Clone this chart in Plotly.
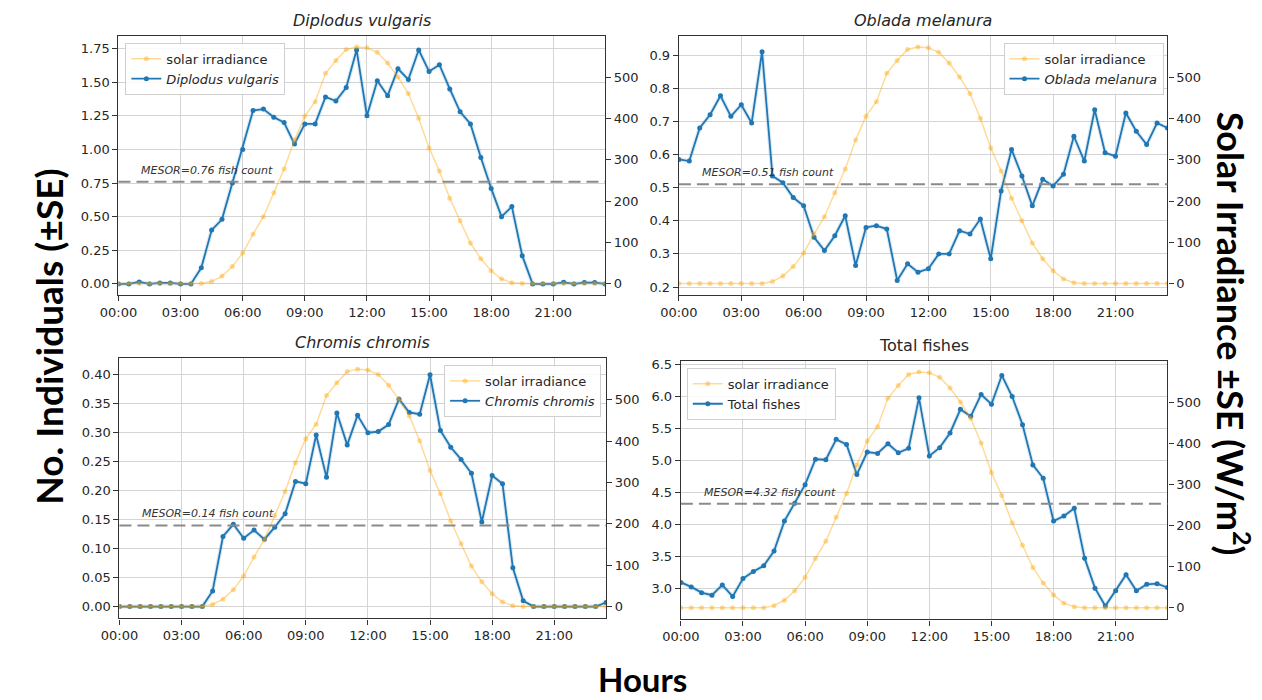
import plotly.graph_objects as go

# Half-hourly sampling times over one day
TIMES = ["00:00", "00:30", "01:00", "01:30", "02:00", "02:30", "03:00", "03:30",
         "04:00", "04:30", "05:00", "05:30", "06:00", "06:30", "07:00", "07:30",
         "08:00", "08:30", "09:00", "09:30", "10:00", "10:30", "11:00", "11:30",
         "12:00", "12:30", "13:00", "13:30", "14:00", "14:30", "15:00", "15:30",
         "16:00", "16:30", "17:00", "17:30", "18:00", "18:30", "19:00", "19:30",
         "20:00", "20:30", "21:00", "21:30", "22:00", "22:30", "23:00", "23:30"]
TICK_LABELS = ["00:00", "03:00", "06:00", "09:00", "12:00", "15:00", "18:00", "21:00"]

# Solar irradiance (W/m2)
SOLAR = [0, 0, 0, 0, 0, 0, 0, 0,
         0, 5, 18, 41, 74, 120, 162, 220, 278, 348,
         406, 441, 510, 541, 568, 574, 572, 561, 535, 501,
         461, 401, 329, 273, 207, 152, 98, 60, 31, 11, 2,
         0, 0, 0, 0, 0, 0, 0, 0, 0]

# Mean counts per species
DIPLODUS = [0, 0, 0.015, 0, 0.007, 0.007, 0, 0,
            0.12, 0.40, 0.48, 0.75, 1.00, 1.29, 1.30, 1.24, 1.20, 1.04,
            1.19, 1.19, 1.39, 1.36, 1.46, 1.74, 1.25, 1.51, 1.40, 1.60,
            1.52, 1.74, 1.58, 1.63, 1.45, 1.28, 1.19, 0.94, 0.71, 0.50,
            0.575, 0.21,
            0, 0, 0, 0.012, 0, 0.01, 0.01, 0]
OBLADA = [0.585, 0.58, 0.68, 0.72, 0.777, 0.715, 0.75, 0.695,
          0.91, 0.535, 0.515, 0.47, 0.445, 0.35, 0.31, 0.355, 0.415, 0.265,
          0.38, 0.385, 0.375, 0.22, 0.27, 0.245, 0.255, 0.30, 0.30, 0.37,
          0.36, 0.405, 0.285, 0.49, 0.615, 0.535, 0.445, 0.525, 0.505, 0.54,
          0.655, 0.58, 0.735, 0.605, 0.595, 0.725, 0.67, 0.63, 0.695, 0.68]
CHROMIS = [0, 0, 0, 0, 0, 0, 0, 0, 0,
           0.027, 0.121, 0.142, 0.118, 0.132, 0.116, 0.137, 0.16, 0.216, 0.212,
           0.296, 0.223, 0.334, 0.279, 0.33, 0.30, 0.302, 0.314, 0.358, 0.335,
           0.332, 0.40, 0.304, 0.275, 0.254, 0.23, 0.146, 0.226, 0.212, 0.067,
           0.01,
           0, 0, 0, 0, 0, 0, 0, 0.007]
TOTAL = [3.09, 3.02, 2.93, 2.89, 3.05, 2.87, 3.15, 3.26, 3.35, 3.58,
         4.05, 4.33, 4.62, 5.02, 5.01, 5.33, 5.25, 4.78, 5.13, 5.11,
         5.26, 5.12, 5.19, 5.98, 5.07, 5.20, 5.43, 5.80, 5.69, 6.03,
         5.88, 6.33, 6.00, 5.56, 4.93, 4.72, 4.05, 4.13, 4.25, 3.47,
         3.00, 2.72, 2.96, 3.21, 2.96, 3.06, 3.07, 3.01]

MESORS = [0.76, 0.51, 0.14, 4.32]
NAMES = ["Diplodus vulgaris", "Oblada melanura", "Chromis chromis", "Total fishes"]
ITALIC = [True, True, True, False]
SERIES = [DIPLODUS, OBLADA, CHROMIS, TOTAL]
LEFT_TICKS = [
    [0, 0.25, 0.5, 0.75, 1.0, 1.25, 1.5, 1.75],
    [0.2, 0.3, 0.4, 0.5, 0.6, 0.7, 0.8, 0.9],
    [0, 0.05, 0.1, 0.15, 0.2, 0.25, 0.3, 0.35, 0.4],
    [3.0, 3.5, 4.0, 4.5, 5.0, 5.5, 6.0, 6.5],
]
LEFT_FORMAT = [".2f", ".1f", ".2f", ".1f"]
RIGHT_TICKS = [0, 100, 200, 300, 400, 500]


def to_hours(t):
    h, m = t.split(":")
    return int(h) + int(m) / 60


hours = [to_hours(t) for t in TIMES]
tick_vals = [to_hours(t) for t in TICK_LABELS]

W, H = 1262, 700
# pixel boxes of the four plot areas: (left, right, top, bottom)
BOXES = [(101, 595, 32, 293), (670, 1166, 32, 293),
         (102, 596, 356, 618), (672, 1166, 359, 619)]
LEFT_RANGES = [[-0.085, 1.845], [0.175, 0.958], [-0.0205, 0.429], [2.51, 6.557]]
RIGHT_RANGE = [-28.7, 601]
# legend anchor (x px, y px, xanchor)
LEGENDS = [(108, 39, "left"), (1162, 39, "right"), (591, 363, "right"), (678, 366, "left")]

BLUE = "#1f77b4"
SUN = "rgba(255,165,0,0.40)"
FRAME = "#333333"
GRID = "#d4d4d4"
TICKFONT = dict(family="DejaVu Sans", size=13, color="#262626")

fig = go.Figure()
layout = dict(width=W, height=H, margin=dict(l=0, r=0, t=0, b=0),
              paper_bgcolor="white", plot_bgcolor="white", showlegend=True,
              annotations=[], shapes=[])

for i in range(4):
    n = i + 1
    xa = "x" if n == 1 else f"x{n}"
    ya = "y" if n == 1 else f"y{n}"
    yr = f"y{n + 4}"
    leg = "legend" if n == 1 else f"legend{n}"
    label = f"<i>{NAMES[i]}</i>" if ITALIC[i] else NAMES[i]

    # faint SE envelope under the mean line
    fig.add_trace(go.Scatter(x=hours, y=SERIES[i], xaxis=xa, yaxis=ya, mode="lines",
                             line=dict(color="rgba(31,119,180,0.16)", width=4),
                             showlegend=False, hoverinfo="skip"))
    fig.add_trace(go.Scatter(x=hours, y=SERIES[i], xaxis=xa, yaxis=ya,
                             mode="lines+markers", name=label, legend=leg, legendrank=2,
                             line=dict(color=BLUE, width=1.8),
                             marker=dict(color=BLUE, size=5)))
    fig.add_trace(go.Scatter(x=hours, y=SOLAR, xaxis=xa, yaxis=yr,
                             mode="lines+markers", name="solar irradiance",
                             legend=leg, legendrank=1,
                             line=dict(color=SUN, width=1.5),
                             marker=dict(color=SUN, size=5)))

    l, r, t, b = BOXES[i]
    xdom = [l / W, r / W]
    ydom = [1 - b / H, 1 - t / H]
    xkey = "xaxis" if n == 1 else f"xaxis{n}"
    ykey = "yaxis" if n == 1 else f"yaxis{n}"
    layout[xkey] = dict(domain=xdom, anchor=ya, range=[hours[0], hours[-1]],
                        tickvals=tick_vals, ticktext=TICK_LABELS,
                        ticks="outside", ticklen=5, tickcolor=FRAME,
                        showline=True, mirror=True, linecolor=FRAME, linewidth=1.3,
                        showgrid=True, gridcolor=GRID, gridwidth=1, zeroline=False,
                        tickfont=TICKFONT)
    layout[ykey] = dict(domain=ydom, anchor=xa, range=LEFT_RANGES[i],
                        tickvals=LEFT_TICKS[i], tickformat=LEFT_FORMAT[i],
                        ticks="outside", ticklen=5, tickcolor=FRAME,
                        showline=True, mirror=True, linecolor=FRAME, linewidth=1.3,
                        showgrid=True, gridcolor=GRID, gridwidth=1, zeroline=False,
                        tickfont=TICKFONT)
    layout[f"yaxis{n + 4}"] = dict(overlaying=ya, side="right", anchor=xa,
                                   range=RIGHT_RANGE, tickvals=RIGHT_TICKS,
                                   ticks="outside", ticklen=5, tickcolor=FRAME,
                                   showline=True, linecolor=FRAME, linewidth=1.3,
                                   showgrid=False, zeroline=False, tickfont=TICKFONT)

    lx, ly, lanchor = LEGENDS[i]
    layout[leg] = dict(x=lx / W, y=1 - ly / H, xanchor=lanchor, yanchor="top",
                       bgcolor="rgba(255,255,255,0.85)", bordercolor="#cfcfcf",
                       borderwidth=1, font=dict(family="DejaVu Sans", size=13, color="#262626"),
                       tracegroupgap=2, itemwidth=30)

    # MESOR reference line and label
    layout["shapes"].append(dict(type="line", xref=f"{xa} domain", yref=ya,
                                 x0=0, x1=1, y0=MESORS[i], y1=MESORS[i],
                                 line=dict(color="#8a8a8a", width=2, dash="12px,6px")))
    layout["annotations"].append(dict(x=1, y=MESORS[i], xref=xa, yref=ya,
                                      text=f"<i>MESOR={MESORS[i]:.2f} fish count</i>",
                                      showarrow=False, xanchor="left", yanchor="bottom",
                                      yshift=3,
                                      font=dict(family="DejaVu Sans", size=11, color="#333333")))
    # panel title
    layout["annotations"].append(dict(x=(l + r) / 2 / W, y=1 - t / H, xref="paper", yref="paper",
                                      text=label, showarrow=False, xanchor="center",
                                      yanchor="bottom", yshift=4,
                                      font=dict(family="DejaVu Sans", size=16, color="#262626")))

layout["annotations"] += [
    dict(x=30 / W, y=1 - 335 / H, xref="paper", yref="paper", showarrow=False,
         xanchor="center", yanchor="middle",
         text="<b>No. Individuals (±SE)</b>", textangle=-90,
         font=dict(family="Lato", size=37, color="black")),
    dict(x=1233 / W, y=1 - 332 / H, xref="paper", yref="paper", showarrow=False,
         xanchor="center", yanchor="middle",
         text="<b>Solar Irradiance ±SE (W/m<sup>2</sup>)</b>", textangle=90,
         font=dict(family="Lato", size=36, color="black")),
    dict(x=633 / W, y=1 - 679 / H, xref="paper", yref="paper", showarrow=False,
         xanchor="center", yanchor="middle",
         text="<b>Hours</b>", font=dict(family="Lato", size=33, color="black")),
]

fig.update_layout(**layout)
fig.write_html("out.html")
